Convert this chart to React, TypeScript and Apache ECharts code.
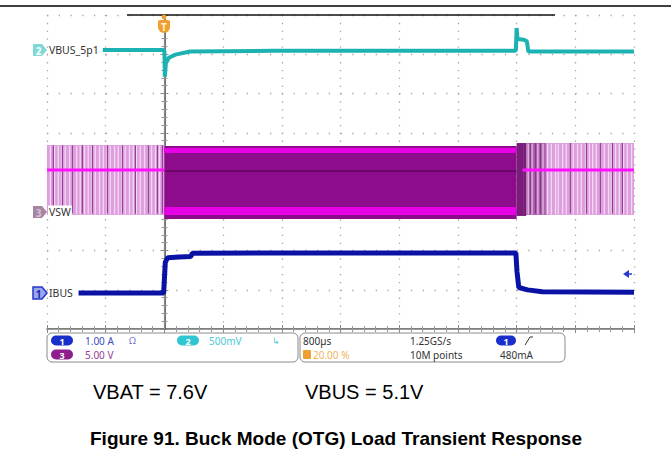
import React, { useEffect, useRef } from "react";
import * as echarts from "echarts";

// ---- Horizontal: time in µs, 800 µs/div, trigger at 20 % ----
const timeMin = -1600;
const timeMax = 6400;
const timePerDiv = 800;

// ---- Channel settings (scale per div, marker position in div) ----
const ch1Scale = 1.0; // A/div  (IBUS)
const ch1Pos = 0.917;
const ch2Scale = 0.5; // V/div (VBUS_5p1)
const ch2Offset = 5.1;
const ch2Pos = 7.11;
const ch3Scale = 5.0; // V/div (VSW)
const ch3Pos = 2.98;

// ---- CH2: VBUS [µs, V] ----
const vbusTrace: [number, number][] = [
  [-840, 5.1], [-400, 5.1], [-20, 5.1], [0, 5.09], [6, 4.76], [20, 4.93], [60, 5.0],
  [150, 5.04], [350, 5.08], [1500, 5.09], [3000, 5.09], [4790, 5.09], [4800, 5.38],
  [4812, 5.24], [4900, 5.23], [4940, 5.21], [4960, 5.08], [5600, 5.08], [6400, 5.08],
];

// ---- CH1: IBUS [µs, A] ----
const ibusTrace: [number, number][] = [
  [-1170, 0.0], [-600, 0.0], [-10, 0.0], [12, 0.78], [45, 0.9], [200, 0.92], [360, 0.93],
  [380, 1.01], [1500, 1.02], [3000, 1.02], [4790, 1.02], [4805, 0.55], [4830, 0.14],
  [4950, 0.08], [5150, 0.03], [6400, 0.02],
];

// ---- CH3: VSW envelope bands [t0 µs, t1 µs, vLow V, vHigh V, colour index] ----
const vswBands: [number, number, number, number, number][] = [
  [-1600, 0, -0.38, 8.54, 0],
  [0, 4800, -0.89, 8.41, 1],
  [0, 4800, 7.52, 8.15, 2],
  [0, 4800, -0.38, 0.64, 2],
  [4800, 4930, -0.5, 8.79, 3],
  [4930, 5210, -0.38, 8.79, 4],
  [5210, 6400, -0.38, 8.79, 0],
];
// PFM switching pulses (µs) seen as light stripes and dark spikes
const vswLightStripes: number[] = [
  -1554, -1497, -1447, -1402, -1351, -1292, -1256, -1197, -1147, -1088, -1038, -993,
  -942, -884, -833, -788, -738, -679, -629, -584, -534, -475, -425, -380, -329, -271,
  -220, -175, -121, -66,
  4958, 5010, 5090, 5160, 5222, 5273, 5331, 5368, 5427, 5477, 5536, 5573, 5631, 5682,
  5740, 5791, 5836, 5886, 5945, 5995, 6054, 6091, 6149, 6200, 6258, 6308, 6367,
];
const vswDarkPulses: number[] = [
  -1513, -1390, -1254, -1118, -981, -777, -572, -395, -218, -95, -27,
  4893, 4989, 5057, 5125, 5534, 5752, 5943, 6106, 6242,
];
const vswAvgLeft: [number, number][] = [[-1600, 5.35], [0, 5.35]];
const vswAvgMid: [number, number][] = [[0, 5.22], [4800, 5.22]];
const vswAvgRight: [number, number][] = [[4880, 5.35], [6400, 5.35]];

const bandColors = ["#DE9EDE", "#8C0C8C", "#E600E6", "#7A1C7A", "#B064B0"];

// ---- Readout texts ----
const ch1Readout = "1.00 A";
const ch3Readout = "5.00 V";
const ch2Readout = "500mV";
const timebase = "800µs";
const trigPos = "20.00 %";
const sampleRate = "1.25GS/s";
const recordLen = "10M points";
const trigLevel = "480mA";
const noteVbat = "VBAT = 7.6V";
const noteVbus = "VBUS = 5.1V";
const caption = "Figure 91. Buck Mode (OTG) Load Transient Response";

const G = { left: 47, top: 15, width: 587, height: 314 };
const FONT = "'Noto Sans', 'DejaVu Sans', sans-serif";
const ROW1 = 340.5;
const ROW2 = 354.5;

function txt(text: string, x: number, y: number, fill: string, size = 10, extra: any = {}) {
  return {
    type: "text",
    z: 100,
    style: {
      text, x, y, fill, fontSize: size, fontFamily: FONT,
      align: "left", verticalAlign: "middle", textAlign: "left", textVerticalAlign: "middle",
      ...extra,
    },
  };
}

function pill(cx: number, cy: number, w: number, h: number, fill: string, label: string) {
  return [
    { type: "rect", z: 100, shape: { x: cx - w / 2, y: cy - h / 2, width: w, height: h, r: h / 2 }, style: { fill } },
    {
      type: "text", z: 101,
      style: {
        text: label, x: cx, y: cy + 0.5, fill: "#fff", fontSize: 9, fontWeight: "bold", fontFamily: FONT,
        align: "center", verticalAlign: "middle", textAlign: "center", textVerticalAlign: "middle",
      },
    },
  ];
}

function marker(y: number, fill: string, stroke: string, label: string, labelColor: string) {
  return [
    {
      type: "polygon", z: 100,
      shape: { points: [[33, y - 6], [42, y - 6], [47, y], [42, y + 6], [33, y + 6]] },
      style: { fill, stroke, lineWidth: stroke === "none" ? 0 : 1.5 },
    },
    {
      type: "text", z: 101,
      style: {
        text: label, x: 38.5, y: y + 0.5, fill: labelColor, fontSize: 10, fontWeight: "bold", fontFamily: FONT,
        align: "center", verticalAlign: "middle", textAlign: "center", textVerticalAlign: "middle",
      },
    },
  ];
}

export default function App() {
  const ref = useRef<HTMLDivElement>(null);

  useEffect(() => {
    if (!ref.current) return;
    const chart = echarts.init(ref.current, undefined, { renderer: "svg" });

    const hDot = [1.3, 58.7 / 5 - 1.3];
    const vDot = [1.3, 39.25 / 5 - 1.3];

    const xBase = {
      type: "value", min: timeMin, max: timeMax, interval: timePerDiv,
      axisLabel: { show: false },
      axisTick: { show: true, inside: true, length: 4, lineStyle: { color: "#8a8a8a" } },
      minorTick: { show: true, splitNumber: 5, length: 3, lineStyle: { color: "#9a9a9a" } },
    };
    const yDivBase = {
      type: "value", min: 0, max: 8, interval: 1,
      axisLabel: { show: false },
      axisTick: { show: true, inside: true, length: 4, lineStyle: { color: "#8a8a8a" } },
      minorTick: { show: true, splitNumber: 5, length: 3, lineStyle: { color: "#9a9a9a" } },
    };

    const stripeData: number[][] = [];
    vswLightStripes.forEach((t) => {
      const right = t > 4000;
      stripeData.push([t, -0.3, right ? 8.7 : 8.45, 0]);
    });
    vswDarkPulses.forEach((t) => {
      const right = t > 4000;
      stripeData.push([t, -0.2, right ? 8.8 : 8.5, 1]);
    });

    const option: any = {
      animation: false,
      backgroundColor: "#ffffff",
      grid: { left: G.left, top: G.top, width: G.width, height: G.height, containLabel: false },
      xAxis: [
        {
          ...xBase, position: "bottom",
          axisLine: { show: true, lineStyle: { color: "#555", width: 1.5 } },
          splitLine: { show: true, lineStyle: { color: "#a6a6a6", width: 1.3, type: vDot } },
        },
        {
          ...xBase, position: "top",
          axisLine: { show: true, lineStyle: { color: "#9a9a9a", width: 1 } },
          splitLine: { show: false },
        },
      ],
      yAxis: [
        {
          ...yDivBase, position: "left",
          axisLine: { show: true, lineStyle: { color: "#6e6e6e", width: 2 } },
          splitLine: { show: true, lineStyle: { color: "#a6a6a6", width: 1.3, type: hDot } },
        },
        {
          ...yDivBase, position: "right",
          axisLine: { show: true, lineStyle: { color: "#8a8a8a", width: 1.2 } },
          splitLine: { show: false },
        },
        { type: "value", show: false, min: -ch1Pos * ch1Scale, max: (8 - ch1Pos) * ch1Scale, splitLine: { show: false } },
        { type: "value", show: false, min: ch2Offset - ch2Pos * ch2Scale, max: ch2Offset + (8 - ch2Pos) * ch2Scale, splitLine: { show: false } },
        { type: "value", show: false, min: -ch3Pos * ch3Scale, max: (8 - ch3Pos) * ch3Scale, splitLine: { show: false } },
      ],
      series: [
        {
          type: "custom", name: "VSW bands", xAxisIndex: 0, yAxisIndex: 4, z: 1,
          data: vswBands,
          renderItem: (_p: any, api: any) => {
            const a = api.coord([api.value(0), api.value(3)]);
            const b = api.coord([api.value(1), api.value(2)]);
            return {
              type: "rect",
              shape: { x: a[0], y: a[1], width: b[0] - a[0], height: b[1] - a[1] },
              style: { fill: bandColors[api.value(4)] },
            };
          },
        },
        {
          type: "custom", name: "VSW pulses", xAxisIndex: 0, yAxisIndex: 4, z: 2,
          data: stripeData,
          renderItem: (_p: any, api: any) => {
            const a = api.coord([api.value(0), api.value(1)]);
            const b = api.coord([api.value(0), api.value(2)]);
            const dark = api.value(3) === 1;
            return {
              type: "line",
              shape: { x1: a[0], y1: a[1], x2: b[0], y2: b[1] },
              style: { stroke: dark ? "#8A2A8A" : "#FFFFFF", lineWidth: dark ? 1.2 : 1.3, opacity: dark ? 0.85 : 0.6 },
            };
          },
        },
        {
          type: "line", name: "VSW avg L", xAxisIndex: 0, yAxisIndex: 4, z: 3, data: vswAvgLeft,
          symbol: "none", lineStyle: { color: "#FF10FF", width: 3 },
        },
        {
          type: "line", name: "VSW avg M", xAxisIndex: 0, yAxisIndex: 4, z: 3, data: vswAvgMid,
          symbol: "none", lineStyle: { color: "#4A004A", width: 1 },
        },
        {
          type: "line", name: "VSW avg R", xAxisIndex: 0, yAxisIndex: 4, z: 3, data: vswAvgRight,
          symbol: "none", lineStyle: { color: "#FF10FF", width: 3 },
        },
        {
          type: "line", name: "VBUS_5p1", xAxisIndex: 0, yAxisIndex: 3, z: 4, data: vbusTrace,
          symbol: "none", lineStyle: { color: "#1CB2B2", width: 4 },
        },
        {
          type: "line", name: "IBUS", xAxisIndex: 0, yAxisIndex: 2, z: 5, data: ibusTrace,
          symbol: "none", lineStyle: { color: "#0A12A6", width: 5 },
        },
      ],
      graphic: [
        // page rule
        { type: "line", z: 100, shape: { x1: 0, y1: 6, x2: 671, y2: 6 }, style: { stroke: "#000", lineWidth: 1.5 } },
        // record indicator on top border
        { type: "line", z: 100, shape: { x1: 127, y1: 15, x2: 555, y2: 15 }, style: { stroke: "#111", lineWidth: 1.5 } },
        // trigger position marker
        { type: "circle", z: 100, shape: { cx: 164, cy: 17, r: 2.5 }, style: { fill: "#F0A030" } },
        { type: "rect", z: 100, shape: { x: 158, y: 20, width: 12, height: 13, r: [2, 2, 6, 6] }, style: { fill: "#F0A030" } },
        {
          type: "text", z: 101,
          style: {
            text: "T", x: 164, y: 27, fill: "#FFF3D0", fontSize: 10, fontWeight: "bold", fontFamily: FONT,
            align: "center", verticalAlign: "middle", textAlign: "center", textVerticalAlign: "middle",
          },
        },
        // trigger level arrow
        { type: "polygon", z: 100, shape: { points: [[623, 274], [629, 270], [629, 278]] }, style: { fill: "#2A3AD0" } },
        { type: "line", z: 100, shape: { x1: 628, y1: 274, x2: 632, y2: 274 }, style: { stroke: "#2A3AD0", lineWidth: 1.5 } },
        // channel markers and labels
        ...marker(50, "#7ED8D8", "none", "2", "#ffffff"),
        ...marker(212, "#A286A2", "none", "3", "#D8C0D8"),
        ...marker(293, "#9AA6EE", "#2436C8", "1", "#1A2AA0"),
        txt("VBUS_5p1", 48, 50, "#333", 10.5, { backgroundColor: "#fff", padding: [1, 1, 1, 1] }),
        txt("VSW", 48, 212, "#333", 10.5, { backgroundColor: "#fff", padding: [1, 1, 1, 1] }),
        txt("IBUS", 48, 293, "#333", 10.5, { backgroundColor: "#fff", padding: [1, 1, 1, 1] }),
        // readout boxes
        { type: "rect", z: 100, shape: { x: 47, y: 333, width: 251, height: 29, r: 5 }, style: { fill: "#fff", stroke: "#8a8a8a", lineWidth: 1 } },
        { type: "rect", z: 100, shape: { x: 300, y: 333, width: 265, height: 29, r: 5 }, style: { fill: "#fff", stroke: "#8a8a8a", lineWidth: 1 } },
        ...pill(62, ROW1, 22, 10, "#1A2ECC", "1"),
        ...pill(62, ROW2, 22, 10, "#8E1E8E", "3"),
        ...pill(188, ROW1, 22, 10, "#2EC6D0", "2"),
        ...pill(506, ROW1, 20, 10, "#1A2ECC", "1"),
        txt(ch1Readout, 85, ROW1, "#3A4CC0"),
        txt("Ω", 129, ROW1, "#6A76C0", 9.5),
        txt(ch2Readout, 209, ROW1, "#4CCAD2"),
        txt("↳", 272, ROW1, "#4CCAD2", 9),
        txt(ch3Readout, 85, ROW2, "#9A3A9A"),
        txt(timebase, 303, ROW1, "#333"),
        { type: "rect", z: 100, shape: { x: 303, y: 350, width: 8, height: 9, r: 1 }, style: { fill: "#F0A030" } },
        txt(trigPos, 313, ROW2, "#F2B45A"),
        txt(sampleRate, 410, ROW1, "#333"),
        txt(recordLen, 410, ROW2, "#333"),
        { type: "polyline", z: 100, shape: { points: [[525, 345], [530, 337], [533, 337]] }, style: { stroke: "#333", lineWidth: 1, fill: "none" } },
        txt(trigLevel, 500, ROW2, "#333"),
        // notes & caption
        txt(noteVbat, 93, 392, "#000", 20, { fontFamily: "'Liberation Sans', Arial, sans-serif" }),
        txt(noteVbus, 305, 392, "#000", 20, { fontFamily: "'Liberation Sans', Arial, sans-serif" }),
        {
          type: "text", z: 100,
          style: {
            text: caption, x: 336, y: 438, fill: "#000", fontSize: 19, fontWeight: "bold",
            fontFamily: "'Liberation Sans', Arial, sans-serif",
            align: "center", verticalAlign: "middle", textAlign: "center", textVerticalAlign: "middle",
          },
        },
      ],
    };

    chart.setOption(option);
    return () => chart.dispose();
  }, []);

  return (
    <div
      ref={ref}
      style={{ position: "absolute", left: 0, top: 0, width: 671, height: 454, background: "#fff" }}
    />
  );
}
